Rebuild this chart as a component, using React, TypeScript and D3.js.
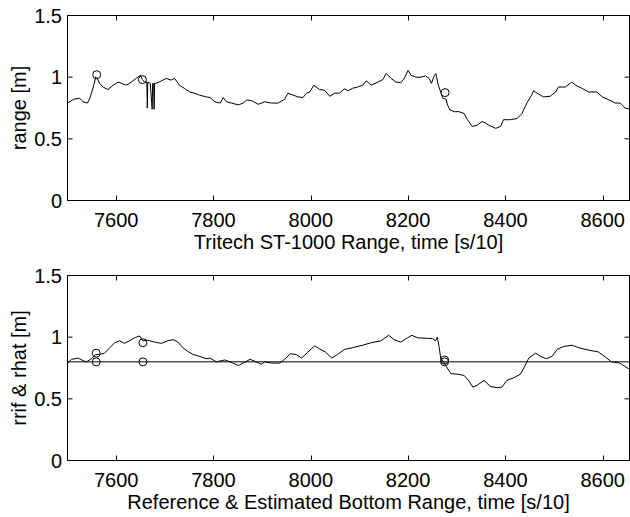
import React from "react";
import * as d3 from "d3";

const topT = [7500,7512,7525,7532,7541,7546,7553,7558,7561,7566,7573,7583,7594,7604,7611,7621,7631,7641,7650,7654,7658,7663,7664,7665,7670,7674,7675,7677,7678,7679,7682,7693,7703,7713,7720,7730,7740,7751,7761,7771,7785,7793,7803,7814,7820,7827,7837,7851,7861,7868,7878,7892,7905,7919,7933,7946,7953,7963,7974,7984,7991,7998,8006,8018,8028,8039,8049,8059,8069,8077,8086,8096,8107,8114,8124,8138,8148,8155,8165,8175,8185,8192,8200,8206,8216,8226,8236,8243,8248,8254,8257,8262,8267,8271,8278,8281,8286,8295,8305,8315,8322,8332,8342,8352,8358,8366,8380,8390,8396,8410,8424,8434,8444,8454,8458,8465,8478,8492,8503,8509,8523,8533,8536,8544,8557,8571,8588,8599,8613,8626,8636,8646,8655];
const topV = [0.79,0.82,0.83,0.80,0.79,0.83,0.92,1.00,0.99,0.95,0.92,0.90,0.935,0.96,0.95,0.935,0.96,0.99,1.015,0.98,0.96,0.96,0.75,0.96,0.95,0.74,0.95,0.95,0.74,0.95,0.95,0.97,0.99,0.976,0.99,0.935,0.91,0.88,0.87,0.855,0.84,0.835,0.80,0.79,0.835,0.80,0.79,0.775,0.79,0.815,0.81,0.78,0.80,0.79,0.79,0.82,0.87,0.855,0.84,0.835,0.87,0.88,0.935,0.90,0.895,0.845,0.87,0.87,0.905,0.89,0.91,0.92,0.935,0.97,0.935,0.96,0.98,1.03,0.99,0.96,0.955,0.99,1.055,1.015,1.00,1.00,1.01,0.99,0.95,1.015,1.03,0.935,0.88,0.83,0.82,0.775,0.735,0.72,0.72,0.705,0.655,0.60,0.61,0.64,0.63,0.61,0.585,0.60,0.655,0.655,0.665,0.705,0.79,0.855,0.89,0.87,0.84,0.845,0.88,0.92,0.92,0.95,0.96,0.935,0.91,0.88,0.88,0.84,0.815,0.79,0.79,0.75,0.74];

const botT = [7500,7508,7522,7532,7539,7549,7558,7566,7576,7587,7597,7607,7617,7627,7638,7648,7655,7665,7679,7693,7706,7717,7727,7737,7747,7758,7771,7785,7793,7806,7823,7834,7851,7861,7875,7885,7899,7905,7919,7936,7946,7958,7970,7981,7993,8008,8018,8030,8043,8055,8069,8086,8107,8124,8144,8160,8171,8185,8199,8208,8219,8240,8250,8256,8260,8264,8267,8272,8278,8288,8301,8315,8325,8333,8342,8356,8369,8383,8393,8403,8417,8431,8440,8448,8462,8472,8484,8496,8506,8520,8537,8550,8571,8591,8605,8618,8635,8645,8655];
const botV = [0.79,0.82,0.83,0.81,0.80,0.825,0.86,0.86,0.87,0.915,0.955,0.97,0.95,0.97,0.995,1.01,0.97,0.975,0.96,0.95,0.97,0.98,0.96,0.915,0.885,0.86,0.845,0.825,0.83,0.80,0.815,0.80,0.77,0.79,0.82,0.805,0.78,0.80,0.79,0.79,0.82,0.865,0.86,0.83,0.875,0.93,0.905,0.88,0.83,0.86,0.90,0.915,0.935,0.955,0.97,1.015,0.98,0.96,0.995,1.015,0.995,0.99,0.99,0.97,1.00,0.915,0.83,0.805,0.765,0.705,0.70,0.69,0.645,0.595,0.61,0.65,0.60,0.59,0.595,0.65,0.67,0.70,0.765,0.83,0.87,0.845,0.825,0.845,0.90,0.925,0.935,0.915,0.895,0.88,0.84,0.80,0.79,0.765,0.74];

const rrif = 0.8;

const topCircT = [7560, 7654, 8276];
const topCircV = [1.02, 0.98, 0.875];
const botCircT = [7559, 7559, 7655, 7655, 8275, 8275];
const botCircV = [0.80, 0.87, 0.80, 0.955, 0.80, 0.815];

const xTicks = [7600, 7800, 8000, 8200, 8400, 8600];
const yTicks = [0, 0.5, 1, 1.5];
const yTickLabels = ["0", "0.5", "1", "1.5"];

const xDomain: [number, number] = [7500, 8655];
const yDomain: [number, number] = [0, 1.5];

const FONT = "'Liberation Sans', Arial, Helvetica, sans-serif";

function Panel({ top, ts, vs, ct, cv, xlabel, ylabel, refLine, id }: any) {
  const left = 67.5, right = 629.5;
  const bottom = top + 185;
  const x = d3.scaleLinear().domain(xDomain).range([left, right]);
  const y = d3.scaleLinear().domain(yDomain).range([bottom, top]);
  const line = d3.line<number>().x((_, i) => x(ts[i])).y((d) => y(d));
  const tick = 5;
  return (
    <g>
      <defs>
        <clipPath id={id}>
          <rect x={left} y={top} width={right - left} height={bottom - top} />
        </clipPath>
      </defs>
      <g clipPath={`url(#${id})`}>
        {refLine !== undefined && (
          <line x1={left} x2={right} y1={y(refLine)} y2={y(refLine)} stroke="#000" strokeWidth={1} />
        )}
        <path d={line(vs) || ""} fill="none" stroke="#000" strokeWidth={1} />
        {ct.map((t: number, i: number) => (
          <circle key={i} cx={x(t)} cy={y(cv[i])} r={4} fill="none" stroke="#000" strokeWidth={1} />
        ))}
      </g>
      <rect x={left} y={top} width={right - left} height={bottom - top} fill="none" stroke="#000" strokeWidth={1} />
      {xTicks.map((t) => (
        <g key={t}>
          <line x1={Math.round(x(t)) + 0.5} x2={Math.round(x(t)) + 0.5} y1={bottom} y2={bottom - tick} stroke="#000" />
          <line x1={Math.round(x(t)) + 0.5} x2={Math.round(x(t)) + 0.5} y1={top} y2={top + tick} stroke="#000" />
          <text x={x(t)} y={bottom + 26.5} textAnchor="middle" fontSize={20} fontFamily={FONT} fill="#000">{t}</text>
        </g>
      ))}
      {yTicks.map((v, i) => (
        <g key={v}>
          <line x1={left} x2={left + tick} y1={y(v)} y2={y(v)} stroke="#000" />
          <line x1={right} x2={right - tick} y1={y(v)} y2={y(v)} stroke="#000" />
          <text x={62} y={y(v)} dy="0.36em" textAnchor="end" fontSize={20} fontFamily={FONT} fill="#000">{yTickLabels[i]}</text>
        </g>
      ))}
      <text x={(left + right) / 2} y={bottom + 48.5} textAnchor="middle" fontSize={20} fontFamily={FONT} fill="#000">{xlabel}</text>
      <text transform={`translate(26,${(top + bottom) / 2}) rotate(-90)`} textAnchor="middle" fontSize={20} fontFamily={FONT} fill="#000">{ylabel}</text>
    </g>
  );
}

export default function App() {
  return (
    <svg width={630} height={517} style={{ position: "absolute", left: 0, top: 0, background: "#fff" }}>
      <rect width={630} height={517} fill="#fff" />
      <Panel top={15.5} ts={topT} vs={topV} ct={topCircT} cv={topCircV}
        xlabel="Tritech ST-1000 Range, time [s/10]" ylabel="range [m]" id="c1" />
      <Panel top={275.5} ts={botT} vs={botV} ct={botCircT} cv={botCircV} refLine={rrif}
        xlabel="Reference & Estimated Bottom Range, time [s/10]" ylabel="rrif & rhat [m]" id="c2" />
    </svg>
  );
}
